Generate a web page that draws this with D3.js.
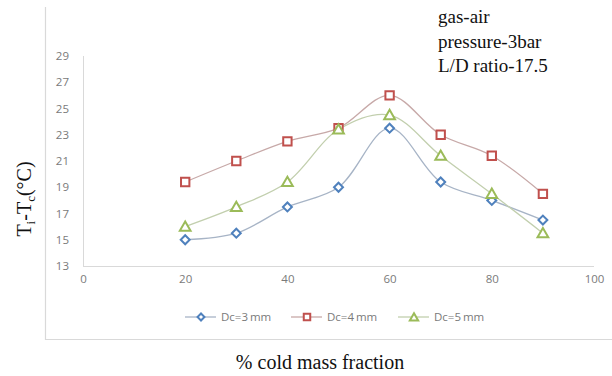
<!DOCTYPE html>
<html>
<head>
<meta charset="utf-8">
<script src="https://cdn.jsdelivr.net/npm/d3@7"></script>
<style>
  body { margin: 0; background: #fff; }
  svg { display: block; }
</style>
</head>
<body>
<div id="chart"></div>
<script>
// cold mass fraction (%)
var coldFraction = [20, 30, 40, 50, 60, 70, 80, 90];
// Ti - Tc (deg C) for each cold orifice diameter
var dc3 = [15, 15.5, 17.5, 19, 23.5, 19.4, 18, 16.5];
var dc4 = [19.4, 21, 22.5, 23.5, 26, 23, 21.4, 18.5];
var dc5 = [16, 17.5, 19.4, 23.4, 24.5, 21.4, 18.5, 15.5];
var seriesNames = ["Dc=3\u2009mm", "Dc=4\u2009mm", "Dc=5\u2009mm"];
var xTicks = [0, 20, 40, 60, 80, 100];
var yTicks = [13, 15, 17, 19, 21, 23, 25, 27, 29];
var notes = ["gas-air", "pressure-3bar", "L/D ratio-17.5"];

var width = 612, height = 376;
var margin = {top: 56, right: 18, bottom: 110, left: 83};

var svg = d3.select("#chart")
    .append("svg")
    .attr("width", width)
    .attr("height", height);

// outer chart frame (only left and bottom edges show)
svg.append("path")
    .attr("d", "M45.5,7 V339.5 H612")
    .attr("fill", "none")
    .attr("stroke", "#d9d9d9")
    .attr("stroke-width", 1.2);

var x = d3.scaleLinear().domain([0, 100]).range([margin.left, 594]);
var y = d3.scaleLinear().domain([13, 29]).range([266, margin.top]);

// axes: light lines, no ticks
var xAxis = svg.append("g")
    .attr("transform", "translate(0,266)")
    .call(d3.axisBottom(x).tickValues(xTicks).tickSize(0).tickPadding(9));
var yAxis = svg.append("g")
    .attr("transform", "translate(" + margin.left + ",0)")
    .call(d3.axisLeft(y).tickValues(yTicks).tickSize(0).tickPadding(14));

[xAxis, yAxis].forEach(function(a){
    a.select(".domain").attr("stroke", "#d9d9d9");
    a.selectAll("text")
        .attr("fill", "#7a7a7a")
        .style("font-family", "'Open Sans', sans-serif")
        .style("font-size", "11.5px");
});
yAxis.select(".domain").attr("d", "M0.5," + y(29) + "V266");
xAxis.select(".domain").attr("d", "M" + margin.left + ",0.5H594");

var series = [
    {name: seriesNames[0], values: dc3, color: "#4f81bd", line: "#a7b4c6", shape: d3.symbolSquare, size: 40, rot: 45, dy: 0},
    {name: seriesNames[1], values: dc4, color: "#c0504d", line: "#c7a9a8", shape: d3.symbolSquare, size: 70, rot: 0, dy: 0},
    {name: seriesNames[2], values: dc5, color: "#9bbb59", line: "#c2cfae", shape: d3.symbolTriangle, size: 50, rot: 0, dy: 1}
];

var line = d3.line()
    .x(function(d){ return x(d.x); })
    .y(function(d){ return y(d.y); })
    .curve(d3.curveCatmullRom.alpha(0.5));

series.forEach(function(s){
    var pts = coldFraction.map(function(c, i){ return {x: c, y: s.values[i]}; });
    svg.append("path")
        .datum(pts)
        .attr("d", line)
        .attr("fill", "none")
        .attr("stroke", s.line)
        .attr("stroke-width", 1.3);
});

series.forEach(function(s){
    var pts = coldFraction.map(function(c, i){ return {x: c, y: s.values[i]}; });
    svg.selectAll(null)
        .data(pts)
        .enter()
        .append("path")
        .attr("d", d3.symbol().type(s.shape).size(s.size))
        .attr("transform", function(d){
            return "translate(" + x(d.x) + "," + (y(d.y) + s.dy) + ") rotate(" + s.rot + ")";
        })
        .attr("fill", "#fff")
        .attr("stroke", s.color)
        .attr("stroke-width", 2);
});

// legend
var legendX = [185, 291, 398];
series.forEach(function(s, i){
    var g = svg.append("g").attr("transform", "translate(" + legendX[i] + ",317)");
    g.append("line")
        .attr("x1", 0).attr("x2", 31)
        .attr("stroke", s.line).attr("stroke-width", 1.3);
    g.append("path")
        .attr("d", d3.symbol().type(s.shape).size(s.size * 0.6))
        .attr("transform", "translate(16," + s.dy + ") rotate(" + s.rot + ")")
        .attr("fill", "#fff")
        .attr("stroke", s.color)
        .attr("stroke-width", 2);
    g.append("text")
        .attr("x", 36).attr("y", 4)
        .attr("fill", "#7a7a7a")
        .style("font-family", "'Open Sans', sans-serif")
        .style("font-size", "11.5px")
        .text(s.name);
});

// axis titles
svg.append("text")
    .attr("x", 320).attr("y", 369)
    .attr("text-anchor", "middle")
    .style("font-family", "'Liberation Serif', 'Times New Roman', serif")
    .style("font-size", "20px")
    .attr("fill", "#111")
    .text("% cold mass fraction");

var yt = svg.append("text")
    .attr("transform", "translate(31,199) rotate(-90)")
    .attr("text-anchor", "middle")
    .style("font-family", "'Liberation Serif', 'Times New Roman', serif")
    .style("font-size", "20px")
    .attr("fill", "#111");
yt.append("tspan").text("T");
yt.append("tspan").attr("dy", 4).style("font-size", "13px").text("i");
yt.append("tspan").attr("dy", -4).text("-T");
yt.append("tspan").attr("dy", 4).style("font-size", "13px").text("c");
yt.append("tspan").attr("dy", -4).text("(\u00b0C)");

// condition notes
svg.selectAll(".note")
    .data(notes)
    .enter()
    .append("text")
    .attr("class", "note")
    .attr("x", 438)
    .attr("y", function(d, i){ return 23 + i * 24.5; })
    .style("font-family", "'Liberation Serif', 'Times New Roman', serif")
    .style("font-size", "19px")
    .attr("fill", "#111")
    .text(function(d){ return d; });
</script>
</body>
</html>
